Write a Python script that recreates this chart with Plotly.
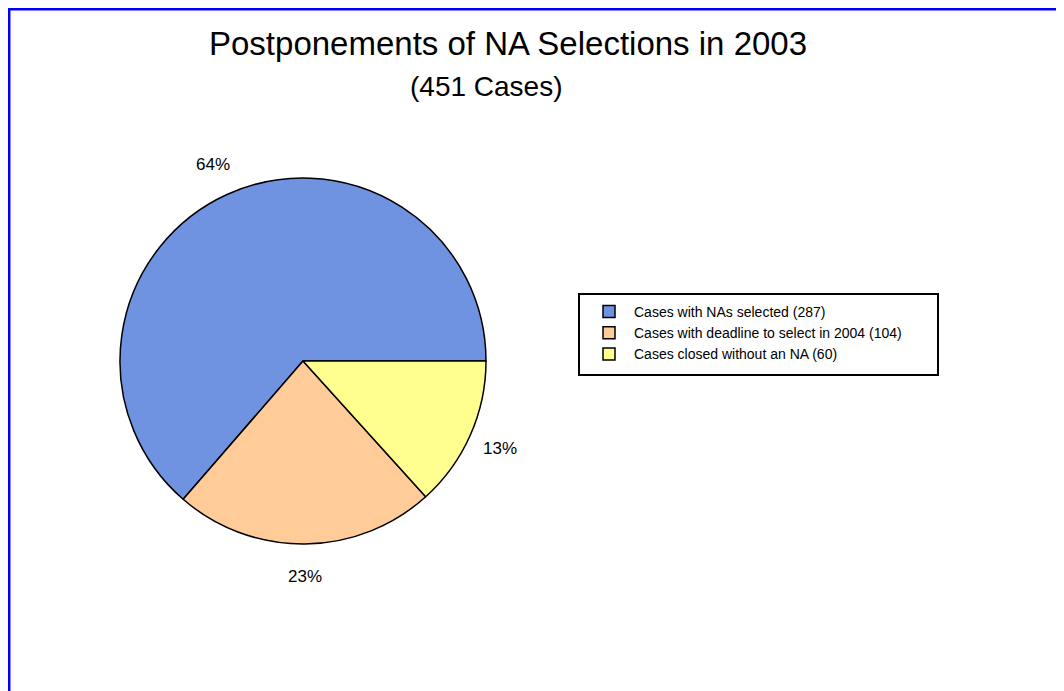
import math
import plotly.graph_objects as go

# ---- data ----
categories = ["Cases with NAs selected", "Cases with deadline to select in 2004", "Cases closed without an NA"]
values = [287, 104, 60]
colors = ["#6F93E0", "#FFCC99", "#FFFF8F"]
title_text = "Postponements of NA Selections in 2003"
subtitle_text = "(451 Cases)"

W, H = 1064, 691
OFF = 8  # page body margin offset
FONT = "Liberation Sans, Arial, sans-serif"


def px_x(x):
    return (x - OFF) / W


def px_y(y):
    return 1 - (y - OFF) / H


# pie geometry (page pixels)
cx, cy, r = 303, 361, 183
labels = [f"{c} ({v})" for c, v in zip(categories, values)]
total = sum(values)

# first slice starts at 3 o'clock and runs counterclockwise
rotation = 90 - 360 * values[0] / total

fig = go.Figure(go.Pie(
    labels=labels,
    values=values,
    sort=False,
    direction="counterclockwise",
    rotation=rotation,
    marker=dict(colors=colors, line=dict(color="black", width=1.5)),
    textinfo="none",
    hoverinfo="label+percent",
    domain=dict(x=[px_x(cx - r), px_x(cx + r)], y=[px_y(cy + r), px_y(cy - r)]),
))

# percent labels outside the slices, positioned from the data
annotations = []
cum = 0
for v in values:
    mid = (cum + v / 2) / total * 2 * math.pi  # ccw from 3 o'clock
    cum += v
    R = r * 1.18
    annotations.append(dict(
        x=px_x(cx + R * math.cos(mid)), y=px_y(cy - R * math.sin(mid)),
        xref="paper", yref="paper",
        text=f"{round(100 * v / total)}%", showarrow=False,
        xanchor="center", yanchor="middle",
        font=dict(family=FONT, size=17, color="black"),
    ))

annotations.append(dict(
    x=px_x(508), y=px_y(43), xref="paper", yref="paper", text=title_text,
    showarrow=False, xanchor="center", yanchor="middle",
    font=dict(family=FONT, size=33, color="black"),
))
annotations.append(dict(
    x=px_x(486), y=px_y(87), xref="paper", yref="paper", text=subtitle_text,
    showarrow=False, xanchor="center", yanchor="middle",
    font=dict(family=FONT, size=28, color="black"),
))

fig.update_layout(
    width=W, height=H,
    margin=dict(l=0, r=0, t=0, b=0),
    paper_bgcolor="white",
    plot_bgcolor="white",
    showlegend=True,
    legend=dict(
        x=px_x(584), y=px_y(296), xanchor="left", yanchor="top",
        borderwidth=0, bgcolor="rgba(0,0,0,0)",
        itemwidth=40,
        font=dict(family=FONT, size=14, color="black"),
        traceorder="normal",
    ),
    annotations=annotations,
    shapes=[
        # outer blue frame (runs off the right and bottom edges)
        dict(type="rect", xref="paper", yref="paper",
             x0=1.2 / W, x1=1.05, y0=-0.05, y1=1 - 1.2 / H,
             line=dict(color="#0000FF", width=2.5), fillcolor="rgba(0,0,0,0)",
             layer="above"),
        # legend frame
        dict(type="rect", xref="paper", yref="paper",
             x0=px_x(579), x1=px_x(938), y0=px_y(375), y1=px_y(294),
             line=dict(color="black", width=2), fillcolor="rgba(0,0,0,0)",
             layer="below"),
    ],
)

fig.write_html("out.html")
